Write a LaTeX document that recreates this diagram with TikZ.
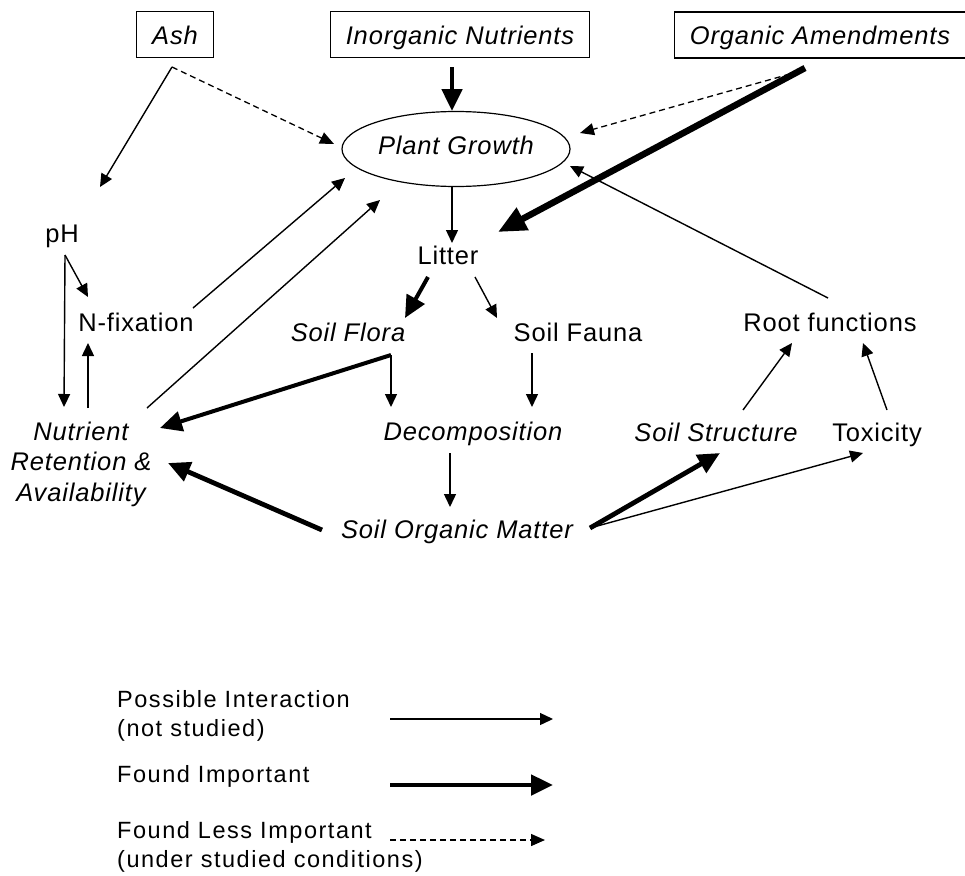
\documentclass[tikz,border=0pt]{standalone}
\usepackage{fontspec}
\setmainfont{Liberation Sans}[LetterSpace=3.3]
\newfontfamily\legendfont{Liberation Sans}[LetterSpace=6.5]
\usetikzlibrary{arrows.meta,shapes.geometric}

\begin{document}
\begin{tikzpicture}[x=1pt,y=-1pt,
  every node/.style={font=\fontsize{25.5}{30.5}\selectfont},
  txt/.style={anchor=base, inner sep=0pt},
  ittxt/.style={txt, font=\fontsize{25.5}{30.5}\selectfont\itshape},
  legtxt/.style={anchor=base west, inner sep=0pt, align=left,
    font=\legendfont\fontsize{23.5}{29.5}\selectfont},
  srcbox/.style={draw, line width=1.2pt, inner xsep=15.5pt, inner ysep=0pt,
    minimum height=46pt, text height=20pt, text depth=0pt,
    font=\fontsize{25.5}{30.5}\selectfont\itshape},
  possible/.style={line width=1.4pt, -{Triangle[length=13pt,width=12pt]}},
  important/.style={line width=4.8pt, -{Triangle[length=22pt,width=20pt]}},
  lessimp/.style={line width=1.3pt, dash pattern=on 6pt off 4pt,
    -{Triangle[length=14pt,width=12pt]}}
]
\useasboundingbox (0,0) rectangle (965,875);
% sources
\node[srcbox] (ash) at (175,34.5) {Ash};
\node[srcbox] (inorg) at (460,34.5) {Inorganic Nutrients};
\node[srcbox] (orgam) at (820,35) {Organic Amendments};
\node[ellipse, draw, line width=1.2pt, minimum width=228pt, minimum height=75pt,
  inner sep=0pt, text height=20pt, text depth=9pt,
  font=\fontsize{25.5}{30.5}\selectfont\itshape] (pg) at (456,149) {Plant Growth};
% soil side
\node[txt] (ph) at (62,242) {pH};
\node[txt] (nfix) at (136,331) {N-fixation};
\node[txt] (litter) at (448,264) {Litter};
\node[ittxt] (flora) at (348,341) {Soil Flora};
\node[txt] (fauna) at (578,341) {Soil Fauna};
\node[txt] (root) at (830,331) {Root functions};
% base of a multi-line node = last line
\node[ittxt, align=center] (nutr) at (81,501) {Nutrient\\Retention \&\\Availability};
\node[ittxt] (decomp) at (473,440) {Decomposition};
\node[ittxt] (struct) at (716,441) {Soil Structure};
\node[txt] (tox) at (877,441) {Toxicity};
\node[ittxt] (som) at (457,538) {Soil Organic Matter};
% legend
\node[legtxt] (legposs) at (117,736.5) {Possible Interaction\\(not studied)};
\node[legtxt] (legimp) at (117,782) {Found Important};
\node[legtxt] (legless) at (117,867.5) {Found Less Important\\(under studied conditions)};
% arrow ends
\coordinate (ash-out) at (172,67);
\coordinate (ph-in) at (100,187);
\coordinate (pg-w) at (334,144);
\coordinate (inorg-out) at (452,67);
\coordinate (pg-n) at (452,111);
\coordinate (orgam-out) at (805,68);
\coordinate (orgam-dash) at (790,74);
\coordinate (pg-ne) at (580,133);
\coordinate (litter-in) at (498,232);
\coordinate (pg-e) at (570,166);
\coordinate (root-out) at (828,298);
\coordinate (pg-s) at (452,187);
\coordinate (litter-n) at (452,243);
\coordinate (litter-sw) at (428,277);
\coordinate (flora-in) at (405,318);
\coordinate (litter-se) at (475,277);
\coordinate (fauna-in) at (497,318);
\coordinate (ph-out) at (65,255);
\coordinate (nfix-in) at (88,297);
\coordinate (nutr-in) at (64,407);
\coordinate (nutr-up) at (88,408);
\coordinate (nfix-s) at (88,343);
\coordinate (nfix-out) at (193,308);
\coordinate (pg-sw) at (345,178);
\coordinate (nutr-ne) at (147,408);
\coordinate (pg-ssw) at (380,200);
\coordinate (flora-out) at (391,355);
\coordinate (nutr-e) at (160,428);
\coordinate (decomp-in) at (391,407);
\coordinate (fauna-out) at (532,353);
\coordinate (decomp-ne) at (532,407);
\coordinate (decomp-s) at (450,453);
\coordinate (som-n) at (450,507);
\coordinate (som-w) at (322,530);
\coordinate (nutr-se) at (168,463);
\coordinate (som-e) at (590,528);
\coordinate (struct-in) at (720,453);
\coordinate (tox-in) at (863,453);
\coordinate (struct-out) at (743,410);
\coordinate (root-sw) at (792,343);
\coordinate (tox-out) at (887,410);
\coordinate (root-se) at (863,343);
\coordinate (legposs-a) at (390,719);
\coordinate (legposs-b) at (553,719);
\coordinate (legimp-a) at (390,785);
\coordinate (legimp-b) at (553,785);
\coordinate (legless-a) at (390,840);
\coordinate (legless-b) at (545,840);
\path
  (ash-out) edge[possible] (ph-in)
  (ash-out) edge[lessimp] (pg-w)
  (inorg-out) edge[important] (pg-n)
  (orgam-dash) edge[lessimp] (pg-ne)
  (orgam-out) edge[important, line width=6.5pt, -{Triangle[length=28pt,width=24pt]}] (litter-in)
  (root-out) edge[possible] (pg-e)
  (pg-s) edge[possible] (litter-n)
  (litter-sw) edge[important, line width=4pt] (flora-in)
  (litter-se) edge[possible] (fauna-in)
  (ph-out) edge[possible] (nfix-in)
  (ph-out) edge[possible] (nutr-in)
  (nutr-up) edge[possible] (nfix-s)
  (nfix-out) edge[possible] (pg-sw)
  (nutr-ne) edge[possible] (pg-ssw)
  (flora-out) edge[important, line width=4pt] (nutr-e)
  (flora-out) edge[possible] (decomp-in)
  (fauna-out) edge[possible] (decomp-ne)
  (decomp-s) edge[possible] (som-n)
  (som-w) edge[important] (nutr-se)
  (som-e) edge[important] (struct-in)
  (som-e) edge[possible] (tox-in)
  (struct-out) edge[possible] (root-sw)
  (tox-out) edge[possible] (root-se)
  (legposs-a) edge[possible] (legposs-b)
  (legimp-a) edge[important] (legimp-b)
  (legless-a) edge[lessimp] (legless-b)
;
\end{tikzpicture}
\end{document}
